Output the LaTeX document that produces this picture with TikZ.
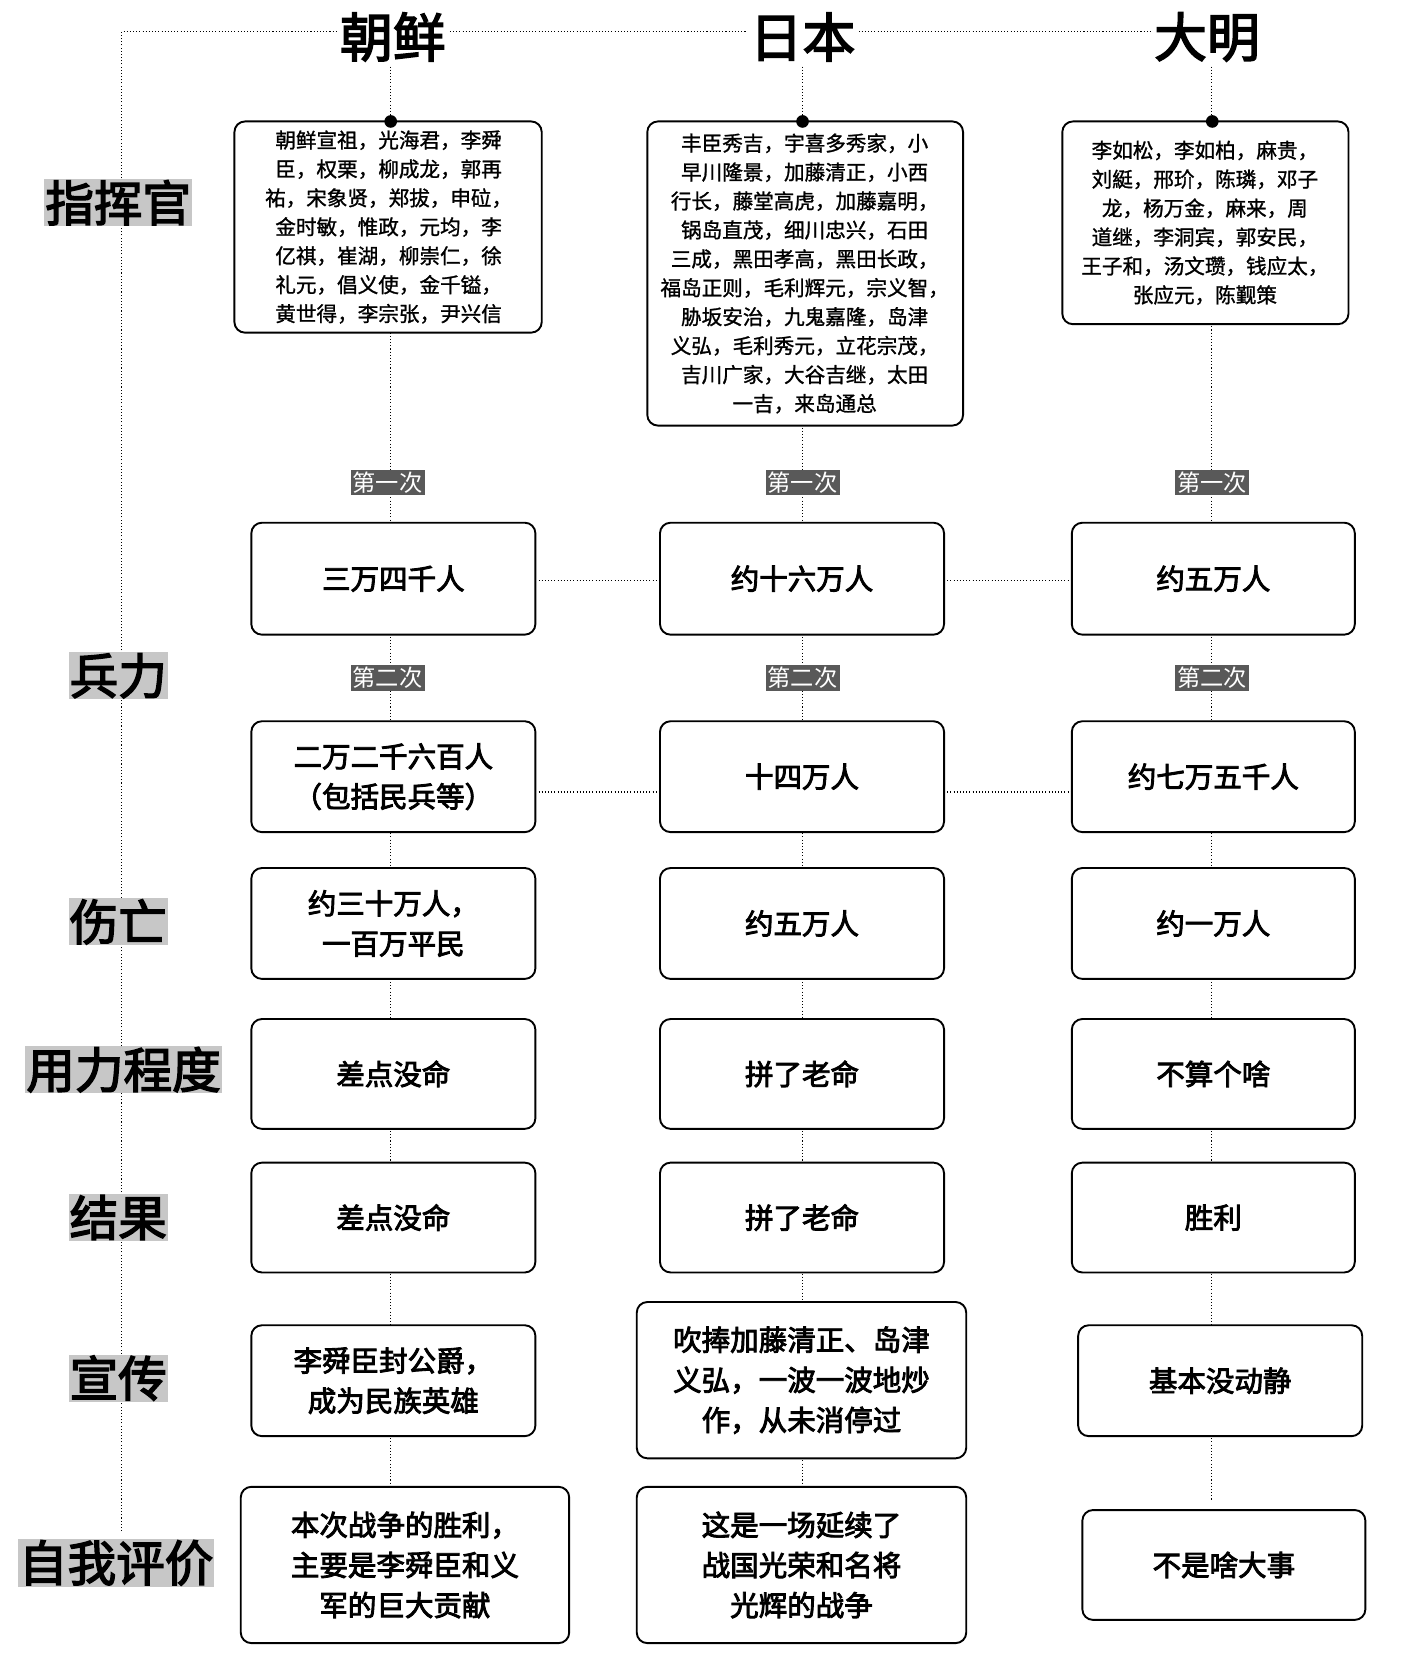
\documentclass[tikz,border=0pt]{standalone}
\usepackage{fontspec}
\newfontfamily\cjk{Noto Sans CJK SC}
\newfontfamily\cjkb{Noto Sans CJK SC}[FakeBold=3]
\newfontfamily\cjkm{Noto Sans CJK SC}[FakeBold=1.2]
\begin{document}
\begin{tikzpicture}[x=1pt,y=-1pt,
  bx/.style={draw,line width=1.8pt,rounded corners=10pt,inner sep=0pt,fill=white},
  bt/.style={font=\cjkb\fontsize{27}{38}\selectfont,align=center},
  st/.style={font=\cjkm\fontsize{19.5}{27.4}\selectfont,align=center},
  lab/.style={fill=black!22,font=\cjkb\fontsize{46}{50}\selectfont,inner sep=1pt},
  hd/.style={fill=white,font=\cjkb\fontsize{50}{54}\selectfont,inner sep=3pt},
  tm/.style={fill=black!65,text=white,font=\cjk\fontsize{22}{24}\selectfont,inner sep=2pt},
  dl/.style={dotted,line width=1pt},
  dot/.style={circle,fill=black,inner sep=0pt,minimum size=12pt}]
\useasboundingbox (0,0) rectangle (1326,1572);
\draw[dl] (115,1450) -- (115,30) -- (1090,30);
% column guide lines
\foreach \x in {370,760,1147}{\draw[dl] (\x,30) -- (\x,1420);}
\node[hd] (h1) at (372,35) {朝鲜};
\node[hd] (h2) at (760,35) {日本};
\node[hd] (h3) at (1143,35) {大明};
% left labels
\node[lab] (l1) at (112,192) {指挥官};
\node[lab] (l2) at (112,640) {兵力};
\node[lab] (l3) at (112,873) {伤亡};
\node[lab] (l4) at (117,1013) {用力程度};
\node[lab] (l5) at (112,1153) {结果};
\node[lab] (l6) at (112,1305) {宣传};
\node[lab] (l7) at (110,1480) {自我评价};
% commander boxes
\draw[bx] (222,115) rectangle (513,315);
\node[st] (c1) at (368,215) {朝鲜宣祖，光海君，李舜\\臣，权栗，柳成龙，郭再\\祐，宋象贤，郑拔，申砬，\\金时敏，惟政，元均，李\\亿祺，崔湖，柳崇仁，徐\\礼元，倡义使，金千镒，\\黄世得，李宗张，尹兴信};
\draw[bx] (613,115) rectangle (912,403);
\node[st] (c2) at (762,259) {丰臣秀吉，宇喜多秀家，小\\早川隆景，加藤清正，小西\\行长，藤堂高虎，加藤嘉明，\\锅岛直茂，细川忠兴，石田\\三成，黑田孝高，黑田长政，\\福岛正则，毛利辉元，宗义智，\\胁坂安治，九鬼嘉隆，岛津\\义弘，毛利秀元，立花宗茂，\\吉川广家，大谷吉继，太田\\一吉，来岛通总};
\draw[bx] (1006,115) rectangle (1277,307);
\node[st] (c3) at (1141,211) {李如松，李如柏，麻贵，\\刘綎，邢玠，陈璘，邓子\\龙，杨万金，麻来，周\\道继，李洞宾，郭安民，\\王子和，汤文瓒，钱应太，\\张应元，陈觐策};
\node[dot] at (370,115) {};
\node[dot] at (760,115) {};
\node[dot] at (1148,115) {};
% time labels
\foreach \x in {367,760,1148}{
  \node[tm] at (\x,457) {第一次};
  \node[tm] at (\x,642) {第二次};}
% rows
\newcommand\rowbox[6]{%
  \draw[bx] (#1,#2) rectangle (#3,#4);
  \node[bt] (#5) at ({(#1+#3)/2},{(#2+#4)/2}) {#6};}
\draw[dl] (507,550) -- (625,550);
\draw[dl] (894,550) -- (1015,550);
\draw[dl] (507,750) -- (625,750);
\draw[dl] (894,750) -- (1015,750);
\rowbox{238}{495}{507}{601}{a1}{三万四千人}
\rowbox{625}{495}{894}{601}{a2}{约十六万人}
\rowbox{1015}{495}{1283}{601}{a3}{约五万人}
\rowbox{238}{683}{507}{788}{b1}{二万二千六百人\\（包括民兵等）}
\rowbox{625}{683}{894}{788}{b2}{十四万人}
\rowbox{1015}{683}{1283}{788}{b3}{约七万五千人}
\rowbox{238}{822}{507}{927}{d1}{约三十万人，\\一百万平民}
\rowbox{625}{822}{894}{927}{d2}{约五万人}
\rowbox{1015}{822}{1283}{927}{d3}{约一万人}
\rowbox{238}{965}{507}{1069}{e1}{差点没命}
\rowbox{625}{965}{894}{1069}{e2}{拼了老命}
\rowbox{1015}{965}{1283}{1069}{e3}{不算个啥}
\rowbox{238}{1101}{507}{1205}{f1}{差点没命}
\rowbox{625}{1101}{894}{1205}{f2}{拼了老命}
\rowbox{1015}{1101}{1283}{1205}{f3}{胜利}
\rowbox{238}{1255}{507}{1360}{g1}{李舜臣封公爵，\\成为民族英雄}
\rowbox{603}{1233}{915}{1381}{g2}{吹捧加藤清正、岛津\\义弘，一波一波地炒\\作，从未消停过}
\rowbox{1021}{1255}{1290}{1360}{g3}{基本没动静}
\rowbox{228}{1408}{539}{1556}{k1}{本次战争的胜利，\\主要是李舜臣和义\\军的巨大贡献}
\rowbox{603}{1408}{915}{1556}{k2}{这是一场延续了\\战国光荣和名将\\光辉的战争}
\rowbox{1025}{1430}{1293}{1534}{k3}{不是啥大事}
\end{tikzpicture}
\end{document}
